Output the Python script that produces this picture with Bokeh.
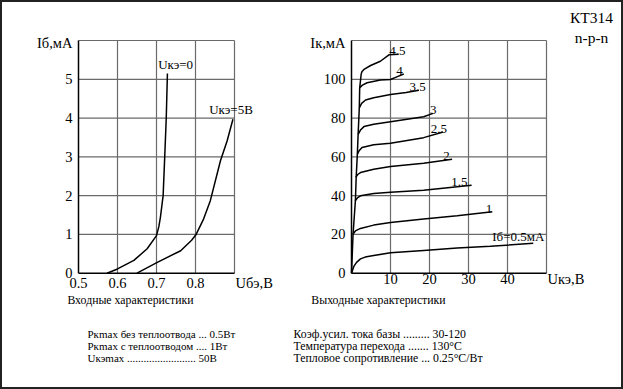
from bokeh.plotting import figure
from bokeh.models import Range1d
from bokeh.core.properties import value
from bokeh.embed import file_html
from bokeh.resources import INLINE

# ---------------- data ----------------
# Input characteristics (Uбэ, В ; Iб, мА)
in_xticks = [0.5, 0.6, 0.7, 0.8, 0.9]
in_xlabels = ["0.5", "0.6", "0.7", "0.8"]
in_yticks = [0, 1, 2, 3, 4, 5, 6]
in_ylabels = ["0", "1", "2", "3", "4", "5"]
u0_x = [0.573, 0.600, 0.642, 0.676, 0.700, 0.706, 0.710, 0.717, 0.721, 0.725, 0.728]
u0_y = [0.00, 0.11, 0.33, 0.63, 0.97, 1.20, 1.44, 2.00, 2.98, 4.00, 5.15]
u5_x = [0.650, 0.702, 0.762, 0.790, 0.801, 0.820, 0.838, 0.864, 0.881, 0.896]
u5_y = [0.00, 0.28, 0.58, 0.85, 0.99, 1.38, 1.87, 2.90, 3.41, 3.97]
in_labels = ["Uкэ=0", "Uкэ=5В"]
in_lab_x = [0.749, 0.891]
in_lab_y = [5.39, 4.21]

# Output characteristics (Uкэ, В ; Iк, мА)
out_xticks = [0, 10, 20, 30, 40, 50]
out_xlabels = ["10", "20", "30", "40"]
out_yticks = [0, 20, 40, 60, 80, 100, 120]
out_ylabels = ["0", "20", "40", "60", "80", "100"]
sat_x = [0.0, 0.2, 0.4, 1.0, 1.2, 1.5, 1.7, 2.0, 2.1, 2.5]
sat_y = [0.0, 10.0, 20.2, 37.4, 49.4, 61.4, 71.6, 85.3, 95.6, 103.0]
ib_labels = ["Iб=0.5мА", "1", "1.5", "2", "2.5", "3", "3.5", "4", "4.5"]
curves_x = [
    [0.0, 0.6, 1.3, 2.3, 3.5, 5.7, 10.0, 18.5, 27.1, 35.6, 46.6],
    [0.4, 1.0, 2.3, 5.7, 10.0, 18.5, 27.1, 36.1],
    [1.0, 1.5, 2.3, 5.7, 10.0, 18.5, 30.8],
    [1.1, 1.6, 2.3, 5.7, 10.0, 18.5, 25.8],
    [1.5, 2.0, 2.7, 5.7, 10.0, 18.5, 23.5],
    [1.7, 2.3, 3.2, 5.7, 10.0, 18.5, 20.9],
    [2.0, 2.6, 3.6, 5.7, 10.0, 14.0, 17.3],
    [2.1, 2.8, 4.0, 7.4, 10.0, 11.3, 13.4],
    [2.5, 2.7, 3.2, 4.9, 7.4, 9.6, 12.1],
]
curves_y = [
    [0.0, 3.5, 5.6, 7.4, 8.3, 9.1, 10.5, 11.7, 13.0, 13.9, 15.4],
    [20.2, 21.8, 23.1, 24.8, 26.2, 27.9, 29.6, 31.7],
    [37.4, 38.8, 39.9, 41.1, 41.8, 42.8, 45.4],
    [49.4, 50.9, 51.9, 53.6, 55.0, 56.7, 58.8],
    [61.4, 63.3, 64.8, 66.2, 67.0, 69.9, 72.8],
    [71.6, 73.8, 75.6, 76.8, 78.1, 80.7, 82.4],
    [85.3, 87.6, 89.3, 90.5, 92.2, 93.2, 94.4],
    [95.6, 97.0, 98.2, 99.6, 99.9, 101.0, 102.7],
    [102.8, 104.0, 105.1, 107.1, 109.3, 112.6, 112.9],
]
lab_x = [36.1, 34.4, 25.6, 23.5, 20.3, 20.1, 14.9, 11.5, 9.7]
lab_y = [15.4, 31.7, 45.4, 58.8, 72.9, 82.8, 94.4, 102.7, 112.9]

title_lines = ["КТ314", "n-p-n"]
captions = ["Входные характеристики", "Выходные характеристики"]
left_specs = ["Pкmax без теплоотвода ... 0.5Вт",
              "Pкmax с теплоотводом .... 1Вт",
              "Uкэmax ......................... 50В"]
right_specs = ["Коэф.усил. тока базы ......... 30-120",
               "Температура перехода ....... 130°С",
               "Тепловое сопротивление ... 0.25°С/Вт"]

# ---------------- layout (page pixel space) ----------------
W, H = 623, 389
FONT = value("Liberation Serif")
GRID = "#6a6a6a"

p = figure(width=W, height=H, output_backend="svg", toolbar_location=None,
           x_range=Range1d(0, W), y_range=Range1d(H, 0),
           x_axis_location=None, y_axis_location=None, min_border=0)
p.xgrid.visible = False
p.ygrid.visible = False
p.outline_line_color = "#222222"
p.outline_line_width = 3


def rng(d0, p0, d1, p1, pa, pb):
    k = (d1 - d0) / (p1 - p0)
    return Range1d(start=d0 + (pa - p0) * k, end=d0 + (pb - p0) * k)


# chart placements in page pixels
p.extra_x_ranges = {"inx": rng(0.5, 78, 0.9, 234, 0, W), "outx": rng(0, 351, 50, 546, 0, W)}
p.extra_y_ranges = {"iny": rng(0, 272.7, 6, 40, H, 0), "outy": rng(0, 272.7, 120, 40, H, 0)}

# grids: one line glyph per grid line
for xn, yn, xt, yt in [("inx", "iny", in_xticks, in_yticks),
                       ("outx", "outy", out_xticks, out_yticks)]:
    xa, xb, ya, yb = xt[0], xt[-1], yt[0], yt[-1]
    for v in xt[1:]:
        p.line([v, v], [ya, yb], line_color=GRID, line_width=1.2,
               x_range_name=xn, y_range_name=yn)
    for v in yt[1:]:
        p.line([xa, xb], [v, v], line_color=GRID, line_width=1.2,
               x_range_name=xn, y_range_name=yn)
    p.line([xa, xa], [ya, yb], line_color="black", line_width=1.5,
           x_range_name=xn, y_range_name=yn)
    p.line([xa, xb], [ya, ya], line_color="black", line_width=1.5,
           x_range_name=xn, y_range_name=yn)

# input curves
p.line(u0_x, u0_y, line_color="black", line_width=1.5, x_range_name="inx", y_range_name="iny")
p.line(u5_x, u5_y, line_color="black", line_width=1.5, x_range_name="inx", y_range_name="iny")

# output curves
p.line(sat_x, sat_y, line_color="black", line_width=1.5, x_range_name="outx", y_range_name="outy")
p.multi_line(xs=curves_x, ys=curves_y, line_color="black", line_width=1.5,
             x_range_name="outx", y_range_name="outy")


def labels(xn, yn, xt, yt, xl, yl, xtitle, ytitle, xoff):
    xa, xb, ya, yb = xt[0], xt[-1], yt[0], yt[-1]
    p.text(x=[xa] * len(yl), y=yt[:len(yl)], text=yl, text_align="right",
           text_baseline="middle", x_offset=-6, text_font=FONT, text_font_size="14.5px",
           x_range_name=xn, y_range_name=yn)
    xv = [v for v in xt if v != 0][:len(xl)]
    p.text(x=xv, y=[ya] * len(xv), text=xl, text_align="center",
           text_baseline="middle", y_offset=xoff, text_font=FONT, text_font_size="14.5px",
           x_range_name=xn, y_range_name=yn)
    p.text(x=[xb], y=[ya], text=[xtitle], text_align="left", text_baseline="middle",
           x_offset=1, y_offset=xoff, text_font=FONT, text_font_size="14.5px",
           x_range_name=xn, y_range_name=yn)
    p.text(x=[xa], y=[yb], text=[ytitle], text_align="right", text_baseline="middle",
           x_offset=-6, y_offset=2, text_font=FONT, text_font_size="14.5px",
           x_range_name=xn, y_range_name=yn)


labels("inx", "iny", in_xticks, in_yticks, in_xlabels, in_ylabels, "Uбэ,В", "Iб,мА", 10)
labels("outx", "outy", out_xticks, out_yticks, out_xlabels, out_ylabels, "Uкэ,В", "Iк,мА", 6)

p.text(x=in_lab_x, y=in_lab_y, text=in_labels, text_align="center",
       text_baseline="middle", text_font=FONT, text_font_size="13px",
       x_range_name="inx", y_range_name="iny")
p.text(x=lab_x, y=lab_y, text=ib_labels, text_align="left", text_baseline="bottom",
       y_offset=1, text_font=FONT, text_font_size="13px",
       x_range_name="outx", y_range_name="outy")

# title
p.text(x=[591, 591], y=[17, 37], text=title_lines, text_align="center",
       text_baseline="middle", text_font=FONT, text_font_size="15.5px")

# captions and specs
p.text(x=[130, 378], y=[299, 299], text=captions, text_align="center",
       text_baseline="middle", text_font=FONT, text_font_size="11.8px")
p.text(x=[87] * 3, y=[333, 345, 357], text=left_specs, text_align="left",
       text_baseline="middle", text_font=FONT, text_font_size="11px")
p.text(x=[293] * 3, y=[333, 345, 357], text=right_specs, text_align="left",
       text_baseline="middle", text_font=FONT, text_font_size="11.8px")

open("out.html", "w").write(file_html(p, INLINE))
